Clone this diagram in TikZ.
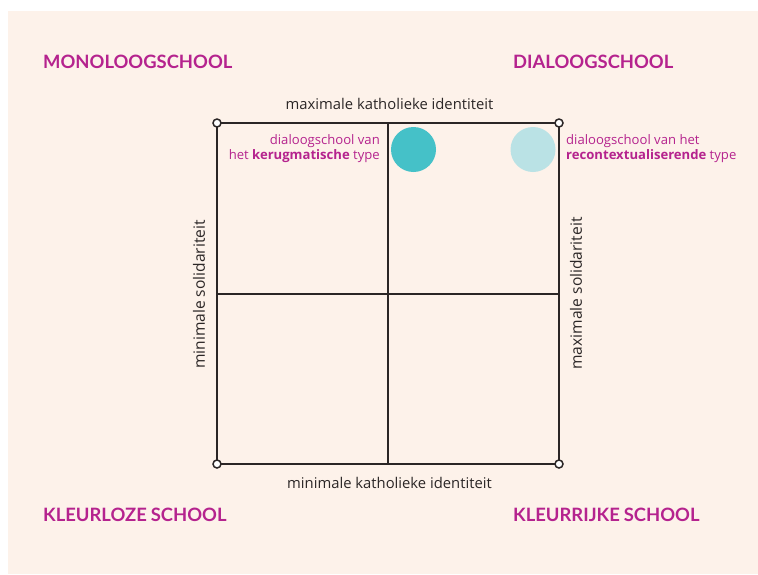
\documentclass[tikz,border=0pt]{standalone}
\usepackage{fontspec}
\setmainfont{Lato}
\newfontfamily\txtfont{Open Sans}
\definecolor{bg}{HTML}{FDF2EA}
\definecolor{mag}{HTML}{B5238E}
\definecolor{ink}{HTML}{2B2626}
\definecolor{teal}{HTML}{45C1C8}
\definecolor{lteal}{HTML}{BAE2E5}
\begin{document}
\begin{tikzpicture}[x=1pt,y=-1pt,
  heading/.style={text=mag,font=\bfseries\fontsize{18.4}{21}\selectfont,inner sep=0pt},
  axis/.style={text=ink,font=\txtfont\fontsize{14.8}{17}\selectfont,inner sep=0pt},
  vaxis/.style={text=ink,font=\txtfont\fontsize{15.6}{18}\selectfont,inner sep=0pt,rotate=90},
  note/.style={text=mag,font=\txtfont\fontsize{13.1}{15.2}\selectfont,inner sep=0pt,align=left},
  grid/.style={draw=ink,line width=2pt},
  pin/.style={circle,draw=ink,fill=white,line width=1.5pt,minimum size=8pt,inner sep=0pt},
  dot/.style={circle,minimum size=45pt,inner sep=0pt}]
\useasboundingbox (0,0) rectangle (758,574);
\fill[white] (0,0) rectangle (758,574);
\fill[bg] (8,11) rectangle (758,574);
% grid
\coordinate (tl) at (217,123);
\coordinate (tr) at (559,123);
\coordinate (bl) at (217,464);
\coordinate (br) at (559,464);
\coordinate (tm) at (388,123);
\coordinate (bm) at (388,464);
\coordinate (lm) at (217,293.5);
\coordinate (rm) at (559,293.5);
\draw[grid] (tl) -- (tr) -- (br) -- (bl) -- cycle;
\draw[grid] (tm) -- (bm);
\draw[grid] (lm) -- (rm);
\node[pin] (p1) at (tl) {};
\node[pin] (p2) at (tr) {};
\node[pin] (p3) at (bl) {};
\node[pin] (p4) at (br) {};
% dots
\node[dot,fill=teal] (d1) at (413.5,149.5) {};
\node[dot,fill=lteal] (d2) at (533,149.5) {};
% headings
\node[heading,anchor=west] (h1) at (43,62) {MONOLOOGSCHOOL};
\node[heading,anchor=west] (h2) at (513,62) {DIALOOGSCHOOL};
\node[heading,anchor=west] (h3) at (43,515) {KLEURLOZE\hspace{4pt}SCHOOL};
\node[heading,anchor=west] (h4) at (513,515) {KLEURRIJKE\hspace{4pt}SCHOOL};
% axis labels
\node[axis] (a1) at (389.5,104) {maximale katholieke identiteit};
\node[axis] (a2) at (389.5,483) {minimale katholieke identiteit};
\node[vaxis] (a3) at (199,294.5) {minimale solidariteit};
\node[vaxis] (a4) at (576,293.5) {maximale solidariteit};
% notes
\node[note,align=right,anchor=east] (n1) at (380,148.5) {dialoogschool van\\het \textbf{kerugmatische} type};
\node[note,anchor=west] (n2) at (566,148.5) {dialoogschool van het\\\textbf{recontextualiserende} type};
\end{tikzpicture}
\end{document}
